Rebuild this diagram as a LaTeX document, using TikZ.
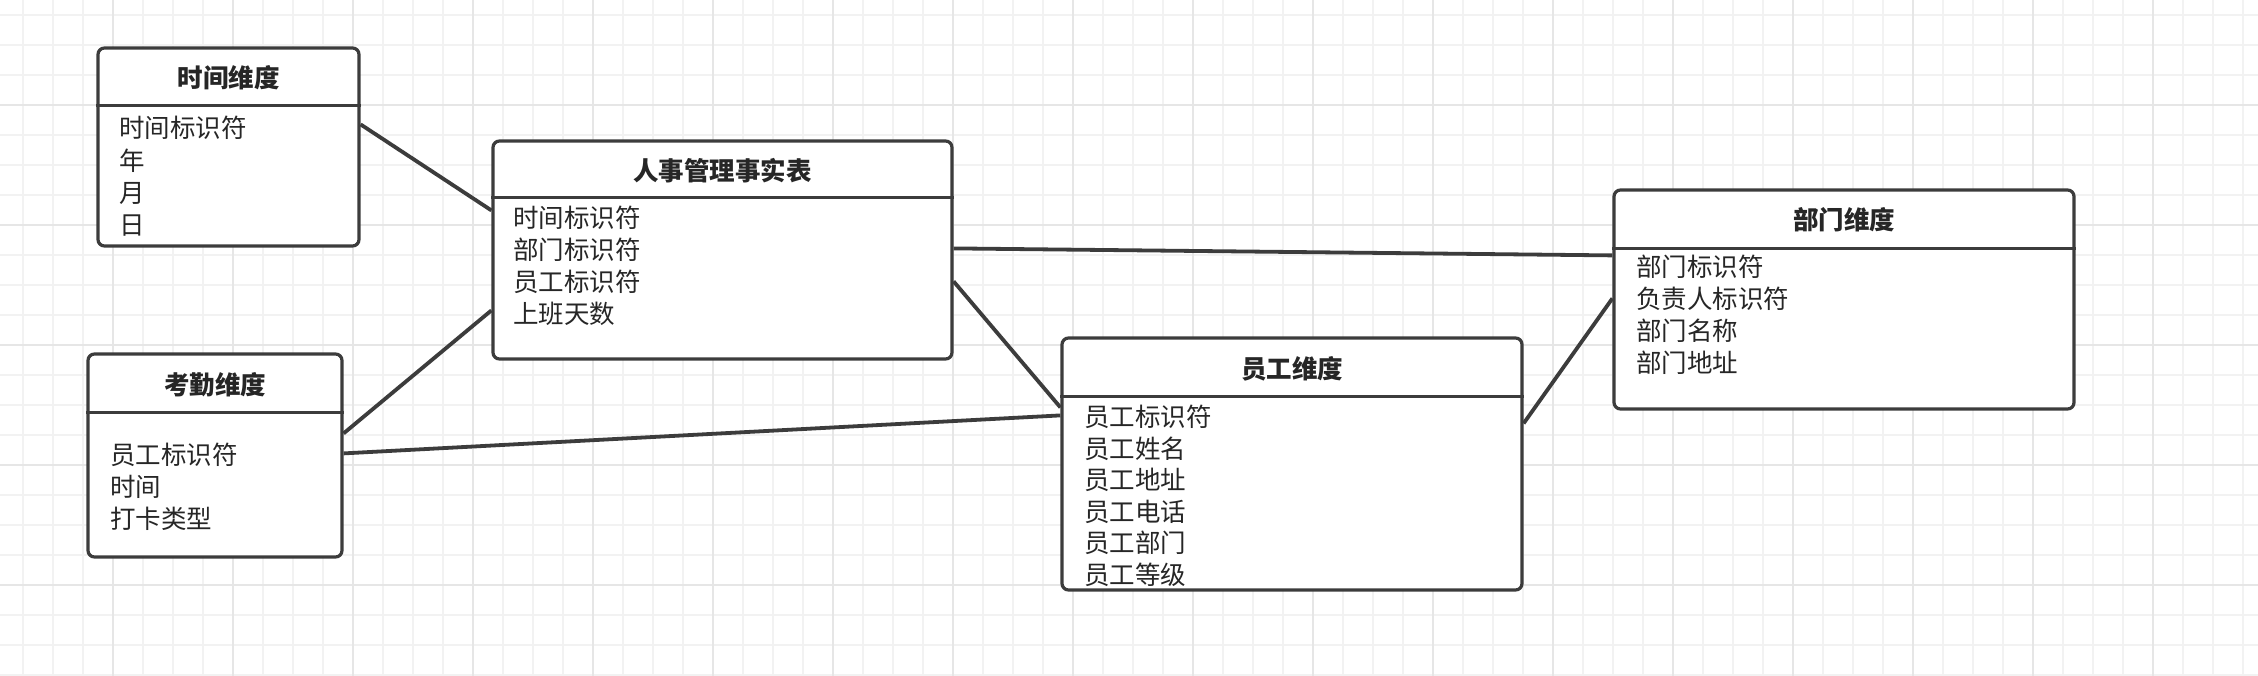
\documentclass[tikz,border=0pt]{standalone}
\usepackage{fontspec}
\setmainfont{Noto Sans CJK SC}
\usetikzlibrary{calc}
\definecolor{gridminor}{HTML}{F2F2F2}
\definecolor{gridmajor}{HTML}{E6E6E6}
\definecolor{edge}{HTML}{3C3C3C}
\definecolor{ink}{HTML}{262626}
\tikzset{
  box/.style={draw=edge, line width=3.2pt, rounded corners=6.5pt, fill=white, inner sep=0pt},
  divider/.style={draw=edge, line width=3.2pt},
  ttl/.style={font=\fontsize{25.5}{30}\selectfont\bfseries, text=ink, inner sep=0pt, text height=22.5pt, text depth=3pt},
  row/.style={font=\fontsize{25.5}{30}\selectfont, text=ink, inner sep=0pt, anchor=west, text height=22.5pt, text depth=3pt},
  link/.style={draw=edge, line width=3.8pt},
}
\begin{document}
\begin{tikzpicture}[x=1pt,y=-1pt]
\useasboundingbox (0,0) rectangle (2258,676);
\fill[white] (0,0) rectangle (2258,676);
% grid
\foreach \gx in {23,53,...,2258} \draw[gridminor, line width=2pt] (\gx,0) -- (\gx,676);
\foreach \gy in {15,45,...,676} \draw[gridminor, line width=2pt] (0,\gy) -- (2258,\gy);
\foreach \gx in {113,233,...,2258} \draw[gridmajor, line width=2.2pt] (\gx,0) -- (\gx,676);
\foreach \gy in {105,225,...,676} \draw[gridmajor, line width=2.2pt] (0,\gy) -- (2258,\gy);

% boxes (nodes)
\node[box, minimum width=261pt, minimum height=198pt] (time) at (228.5,147) {};
\node[box, minimum width=459pt, minimum height=218pt] (fact) at (722.5,250) {};
\node[box, minimum width=254pt, minimum height=203pt] (att) at (215,455.5) {};
\node[box, minimum width=460pt, minimum height=252pt] (emp) at (1292,464) {};
\node[box, minimum width=460pt, minimum height=219pt] (dept) at (1844,299.5) {};

% connectors
\draw[link] ($(time.north east)+(0,78)$) -- ($(fact.north west)+(0,71)$);
\draw[link] ($(att.north east)+(0,81)$) -- ($(fact.north west)+(0,171)$);
\draw[link] ($(att.north east)+(0,101)$) -- ($(emp.north west)+(0,79)$);
\draw[link] ($(fact.north east)+(0,142)$) -- ($(emp.north west)+(0,71)$);
\draw[link] ($(fact.north east)+(0,109)$) -- ($(dept.north west)+(0,67)$);
\draw[link] ($(emp.north east)+(0,87)$) -- ($(dept.north west)+(0,110)$);

% dividers
\draw[divider] ($(time.north west)+(0,59)$) -- ($(time.north east)+(0,59)$);
\draw[divider] ($(fact.north west)+(0,58)$) -- ($(fact.north east)+(0,58)$);
\draw[divider] ($(att.north west)+(0,60)$) -- ($(att.north east)+(0,60)$);
\draw[divider] ($(emp.north west)+(0,60)$) -- ($(emp.north east)+(0,60)$);
\draw[divider] ($(dept.north west)+(0,60)$) -- ($(dept.north east)+(0,60)$);

% titles
\node[ttl] (timeT) at (228.5,78) {时间维度};
\node[ttl] (factT) at (722.5,171) {人事管理事实表};
\node[ttl] (attT) at (215,385) {考勤维度};
\node[ttl] (empT) at (1292,369) {员工维度};
\node[ttl] (deptT) at (1844,220) {部门维度};

% rows
\node[row] (time1) at (119,128) {时间标识符};
\node[row] (time2) at (119,160.3) {年};
\node[row] (time3) at (119,192.6) {月};
\node[row] (time4) at (119,225) {日};

\node[row] (fact1) at (513,218) {时间标识符};
\node[row] (fact2) at (513,250) {部门标识符};
\node[row] (fact3) at (513,282) {员工标识符};
\node[row] (fact4) at (513,314) {上班天数};

\node[row] (att1) at (110,455) {员工标识符};
\node[row] (att2) at (110,487) {时间};
\node[row] (att3) at (110,519) {打卡类型};

\node[row] (emp1) at (1084,417) {员工标识符};
\node[row] (emp2) at (1084,448.5) {员工姓名};
\node[row] (emp3) at (1084,480) {员工地址};
\node[row] (emp4) at (1084,511.5) {员工电话};
\node[row] (emp5) at (1084,543) {员工部门};
\node[row] (emp6) at (1084,575) {员工等级};

\node[row] (dept1) at (1636,267) {部门标识符};
\node[row] (dept2) at (1636,299) {负责人标识符};
\node[row] (dept3) at (1636,331) {部门名称};
\node[row] (dept4) at (1636,363) {部门地址};
\end{tikzpicture}
\end{document}
